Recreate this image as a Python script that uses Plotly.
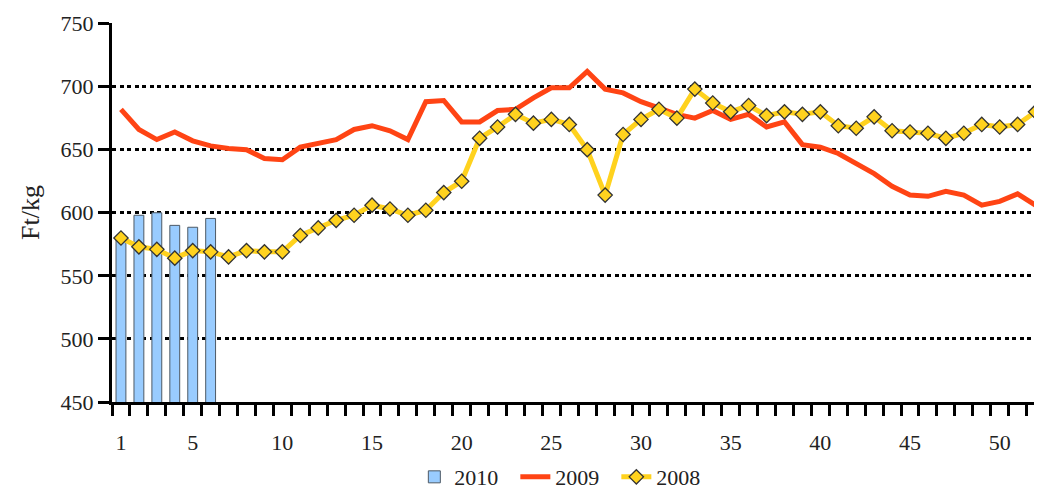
import plotly.graph_objects as go

# ── data (Ft/kg by week) ─────────────────────────────────────────────────────
weeks = list(range(1, 53))

price_2010 = [580, 598, 600, 590, 588.5, 595.5]

price_2009 = [
    682, 666, 658, 664, 657, 653, 651, 650, 643, 642,
    652, 655, 658, 666, 669, 665, 658, 688, 689, 672,
    672, 681, 682, 691, 699, 699, 712, 698, 695, 688,
    683, 678, 675, 681, 674, 678, 668, 672, 654, 652,
    647, 639, 631, 621, 614, 613, 617, 614, 606, 609,
    615, 606,
]

price_2008 = [
    580, 573, 571, 564, 570, 569, 565, 570, 569, 569,
    582, 588, 594, 598, 606, 603, 598, 602, 616, 625,
    659, 668, 678, 671, 674, 670, 650, 614, 662, 674,
    682, 675, 698, 687, 680, 685, 677, 680, 678, 680,
    669, 667, 676, 665, 664, 663, 659, 663, 670, 668,
    670, 680,
]

y_ticks = [450, 500, 550, 600, 650, 700, 750]
x_ticks = [1, 5, 10, 15, 20, 25, 30, 35, 40, 45, 50]

FONT = "Liberation Serif"

fig = go.Figure()

fig.add_trace(go.Bar(
    x=weeks[:len(price_2010)], y=price_2010,
    name="2010",
    width=0.55,
    marker=dict(color="#99CCFF", line=dict(color="#4d5a66", width=1)),
))

fig.add_trace(go.Scatter(
    x=weeks, y=price_2009,
    mode="lines",
    name="2009",
    line=dict(color="#FF4414", width=5),
))

fig.add_trace(go.Scatter(
    x=weeks, y=price_2008,
    mode="lines+markers",
    name="2008",
    line=dict(color="#FFD21E", width=5),
    marker=dict(symbol="diamond", size=11, color="#FFD21E",
                line=dict(color="#333333", width=1.3)),
))

# page body adds an 8px offset, margins are shifted to compensate;
# the figure is a bit taller than the window so the legend never squeezes the plot
fig.update_layout(
    width=1042, height=520,
    margin=dict(l=104, r=8, t=15, b=126),
    plot_bgcolor="white",
    paper_bgcolor="white",
    font=dict(family=FONT, size=22, color="#222222"),
    showlegend=True,
    legend=dict(orientation="h", x=0.488, xanchor="center",
                y=-0.198, yanchor="middle",
                font=dict(size=22), itemwidth=30, entrywidth=56),
)

fig.update_xaxes(
    range=[0.5, 52.36], automargin=False,
    tickmode="array", tickvals=x_ticks,
    ticks="outside", ticklen=19, tickcolor="rgba(0,0,0,0)",
    showline=True, linecolor="black", linewidth=3,
    showgrid=False, zeroline=False,
    minor=dict(tickmode="linear", tick0=0.5, dtick=1, ticks="outside",
               ticklen=11, tickwidth=3, tickcolor="black", showgrid=False),
)

fig.update_yaxes(
    range=[450, 750.4], automargin=False,
    tickmode="array", tickvals=y_ticks,
    ticks="outside", ticklen=11, tickwidth=3, tickcolor="black",
    showline=True, linecolor="black", linewidth=3,
    showgrid=True, gridcolor="black", gridwidth=3, griddash="4px,3.5px",
    zeroline=False,
    title=dict(text="Ft/kg", standoff=14),
)

fig.write_html("out.html")
